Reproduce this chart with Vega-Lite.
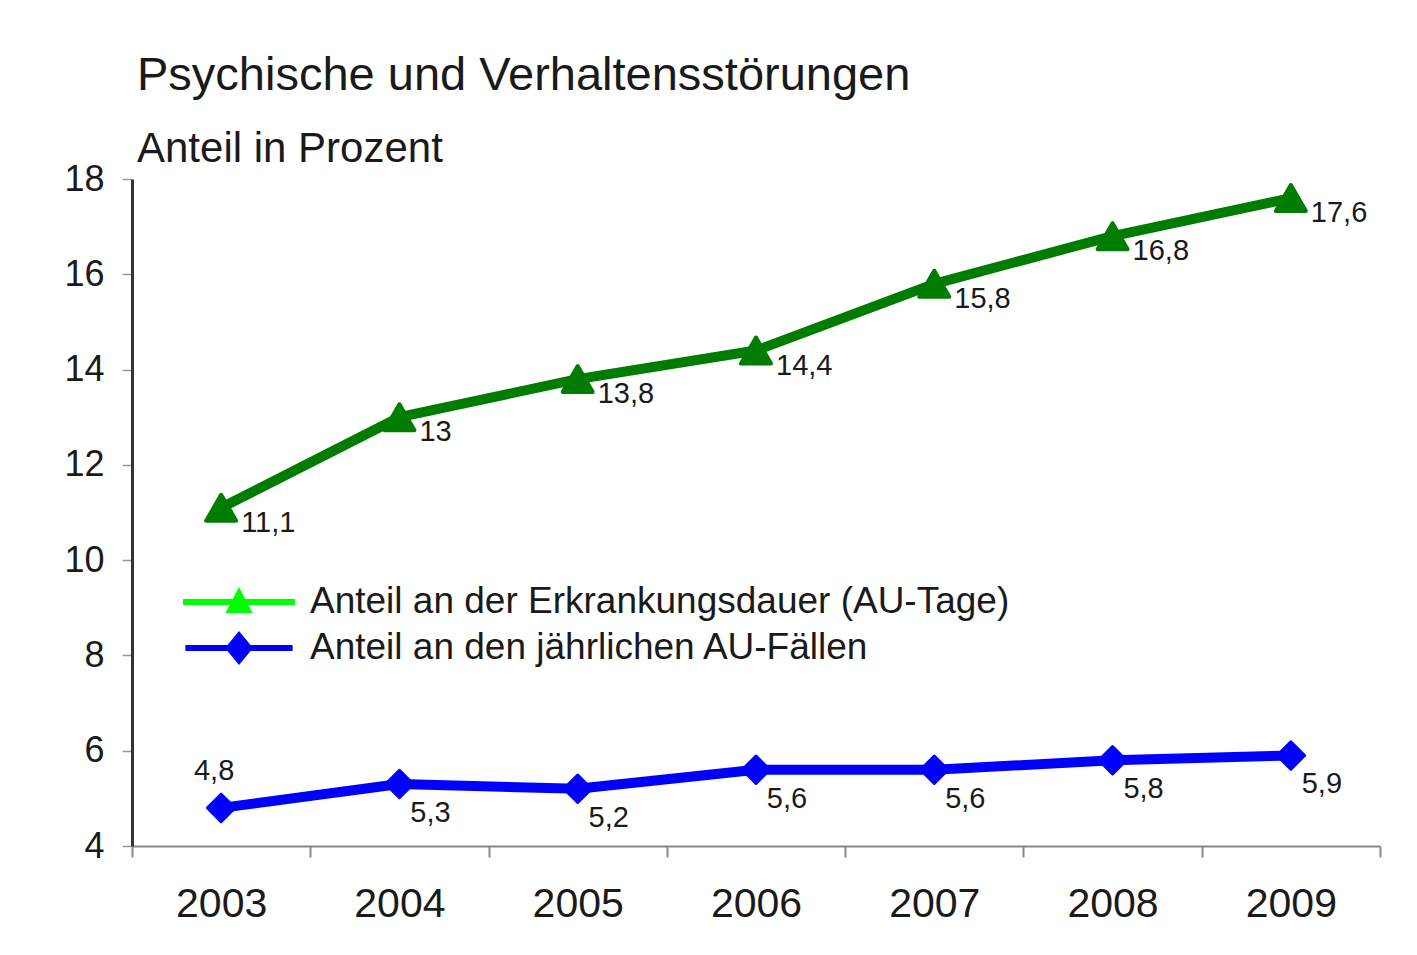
{
  "$schema": "https://vega.github.io/schema/vega-lite/v6.json",
  "width": 1248,
  "height": 667,
  "autosize": {"type": "none"},
  "padding": {"left": 132, "top": 179, "right": 37, "bottom": 109},
  "background": "white",
  "config": {
    "font": "Liberation Sans",
    "view": {"stroke": null},
    "locale": {"number": {"decimal": ",", "thousands": ".", "grouping": [3], "currency": ["", " €"]}}
  },
  "title": {
    "text": "Psychische und Verhaltensstörungen",
    "subtitle": "Anteil in Prozent",
    "anchor": "start",
    "frame": "group",
    "dx": 5,
    "offset": -10,
    "fontSize": 47,
    "fontWeight": "normal",
    "color": "#1a1a1a",
    "subtitleFontSize": 42,
    "subtitleColor": "#1a1a1a",
    "subtitlePadding": 29
  },
  "data": {
    "values": [
      {"year": "2003", "series": "Anteil an der Erkrankungsdauer (AU-Tage)", "value": 11.1},
      {"year": "2004", "series": "Anteil an der Erkrankungsdauer (AU-Tage)", "value": 13},
      {"year": "2005", "series": "Anteil an der Erkrankungsdauer (AU-Tage)", "value": 13.8},
      {"year": "2006", "series": "Anteil an der Erkrankungsdauer (AU-Tage)", "value": 14.4},
      {"year": "2007", "series": "Anteil an der Erkrankungsdauer (AU-Tage)", "value": 15.8},
      {"year": "2008", "series": "Anteil an der Erkrankungsdauer (AU-Tage)", "value": 16.8},
      {"year": "2009", "series": "Anteil an der Erkrankungsdauer (AU-Tage)", "value": 17.6},
      {"year": "2003", "series": "Anteil an den jährlichen AU-Fällen", "value": 4.8},
      {"year": "2004", "series": "Anteil an den jährlichen AU-Fällen", "value": 5.3},
      {"year": "2005", "series": "Anteil an den jährlichen AU-Fällen", "value": 5.2},
      {"year": "2006", "series": "Anteil an den jährlichen AU-Fällen", "value": 5.6},
      {"year": "2007", "series": "Anteil an den jährlichen AU-Fällen", "value": 5.6},
      {"year": "2008", "series": "Anteil an den jährlichen AU-Fällen", "value": 5.8},
      {"year": "2009", "series": "Anteil an den jährlichen AU-Fällen", "value": 5.9}
    ]
  },
  "encoding": {
    "x": {
      "field": "year",
      "type": "ordinal",
      "bandPosition": 0.5,
      "scale": {"type": "band", "paddingInner": 0, "paddingOuter": 0},
      "axis": {
        "title": null,
        "labelAngle": 0,
        "tickBand": "extent",
        "tickSize": 11,
        "tickColor": "#888888",
        "tickWidth": 2,
        "domainColor": "#888888",
        "domainWidth": 2,
        "labelFontSize": 41,
        "labelColor": "#1a1a1a",
        "labelPadding": 27,
        "grid": false
      }
    },
    "y": {
      "field": "value",
      "type": "quantitative",
      "scale": {"domain": [4, 18], "nice": false, "zero": false},
      "axis": {
        "title": null,
        "values": [4, 6, 8, 10, 12, 14, 16, 18],
        "tickSize": 10,
        "tickColor": "#999999",
        "tickWidth": 1.5,
        "domainColor": "#333333",
        "domainWidth": 3,
        "labelFontSize": 36,
        "labelColor": "#1a1a1a",
        "labelPadding": 18,
        "grid": false
      }
    }
  },
  "layer": [
    {
      "mark": {"type": "point", "filled": true, "size": 0},
      "encoding": {
        "color": {
          "field": "series",
          "type": "nominal",
          "scale": {"domain": ["Anteil an der Erkrankungsdauer (AU-Tage)", "Anteil an den jährlichen AU-Fällen"], "range": ["#00ff00", "#0000ff"]},
          "legend": {
            "orient": "top-left",
            "offset": 87,
            "title": " ",
            "titleFontSize": 10,
            "titleColor": "transparent",
            "titlePadding": 306,
            "symbolSize": 1600,
            "symbolStrokeWidth": 0,
            "symbolOpacity": 1,
            "labelFontSize": 37,
            "labelColor": "#1a1a1a",
            "labelOffset": 51,
            "labelLimit": 1200,
            "rowPadding": 8
          }
        },
        "shape": {
          "field": "series",
          "type": "nominal",
          "scale": {"domain": ["Anteil an der Erkrankungsdauer (AU-Tage)", "Anteil an den jährlichen AU-Fällen"], "range": ["M-2.8,-0.15H2.8V0.15H-2.8Z M-0.68,0.55L0,-0.75L0.68,0.55Z", "M-2.68,-0.15H2.68V0.15H-2.68Z M0,-0.85L0.7,0L0,0.85L-0.7,0Z"]},
          "legend": {
            "orient": "top-left",
            "offset": 87,
            "title": " ",
            "titleFontSize": 10,
            "titleColor": "transparent",
            "titlePadding": 306,
            "symbolSize": 1600,
            "symbolStrokeWidth": 0,
            "symbolOpacity": 1,
            "labelFontSize": 37,
            "labelColor": "#1a1a1a",
            "labelOffset": 51,
            "labelLimit": 1200,
            "rowPadding": 8
          }
        }
      }
    },
    {
      "mark": {"type": "line", "strokeWidth": 10, "strokeJoin": "round", "strokeCap": "round"},
      "encoding": {
        "stroke": {
          "field": "series",
          "type": "nominal",
          "scale": {"domain": ["Anteil an der Erkrankungsdauer (AU-Tage)", "Anteil an den jährlichen AU-Fällen"], "range": ["#007d00", "#0000ff"]},
          "legend": null
        }
      }
    },
    {
      "transform": [{"filter": "datum.series === 'Anteil an der Erkrankungsdauer (AU-Tage)'"}],
      "mark": {"type": "point", "filled": true, "shape": "triangle-up", "size": 900, "color": "#007d00", "opacity": 1, "stroke": "#007d00", "strokeWidth": 4, "strokeJoin": "round"}
    },
    {
      "transform": [{"filter": "datum.series === 'Anteil an den jährlichen AU-Fällen'"}],
      "mark": {"type": "point", "filled": true, "shape": "diamond", "size": 750, "color": "#0000ff", "opacity": 1, "stroke": "#0000ff", "strokeWidth": 3, "strokeJoin": "round"}
    },
    {
      "transform": [{"filter": "datum.series === 'Anteil an der Erkrankungsdauer (AU-Tage)'"}],
      "mark": {"type": "text", "align": "left", "baseline": "middle", "dx": 20, "dy": 15, "fontSize": 29, "color": "#1a1a1a"},
      "encoding": {"text": {"field": "value", "type": "quantitative", "format": ".3~r"}}
    },
    {
      "transform": [{"filter": "datum.series === 'Anteil an den jährlichen AU-Fällen' && datum.year !== '2003'"}],
      "mark": {"type": "text", "align": "center", "baseline": "middle", "dx": 31, "dy": 29, "fontSize": 29, "color": "#1a1a1a"},
      "encoding": {"text": {"field": "value", "type": "quantitative", "format": ".3~r"}}
    },
    {
      "transform": [{"filter": "datum.series === 'Anteil an den jährlichen AU-Fällen' && datum.year === '2003'"}],
      "mark": {"type": "text", "align": "center", "baseline": "middle", "dx": -7, "dy": -37, "fontSize": 29, "color": "#1a1a1a"},
      "encoding": {"text": {"field": "value", "type": "quantitative", "format": ".3~r"}}
    }
  ]
}
